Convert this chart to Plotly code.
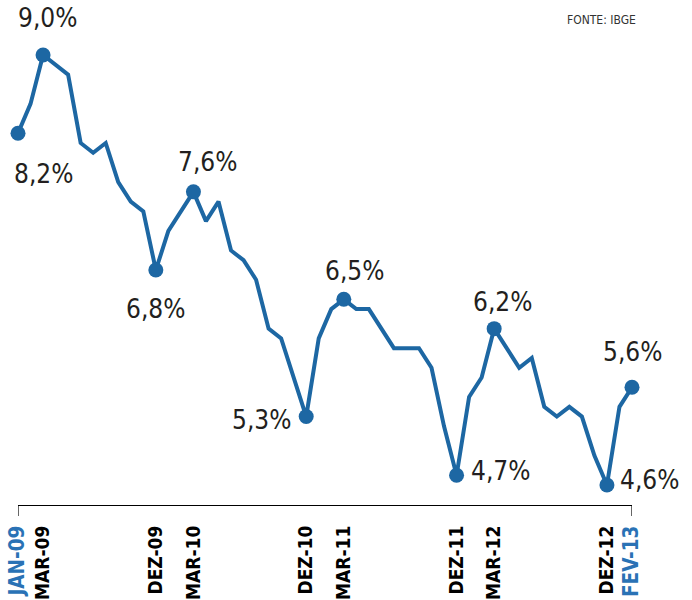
import plotly.graph_objects as go

# taxa de desemprego mensal, jan/2009 a fev/2013
meses = ["JAN-09", "FEV-09", "MAR-09", "ABR-09", "MAI-09", "JUN-09", "JUL-09", "AGO-09", "SET-09", "OUT-09", "NOV-09", "DEZ-09",
         "JAN-10", "FEV-10", "MAR-10", "ABR-10", "MAI-10", "JUN-10", "JUL-10", "AGO-10", "SET-10", "OUT-10", "NOV-10", "DEZ-10",
         "JAN-11", "FEV-11", "MAR-11", "ABR-11", "MAI-11", "JUN-11", "JUL-11", "AGO-11", "SET-11", "OUT-11", "NOV-11", "DEZ-11",
         "JAN-12", "FEV-12", "MAR-12", "ABR-12", "MAI-12", "JUN-12", "JUL-12", "AGO-12", "SET-12", "OUT-12", "NOV-12", "DEZ-12",
         "JAN-13", "FEV-13"]
taxa = [8.2, 8.5, 9.0, 8.9, 8.8, 8.1, 8.0, 8.1, 7.7, 7.5, 7.4, 6.8,
        7.2, 7.4, 7.6, 7.3, 7.5, 7.0, 6.9, 6.7, 6.2, 6.1, 5.7, 5.3,
        6.1, 6.4, 6.5, 6.4, 6.4, 6.2, 6.0, 6.0, 6.0, 5.8, 5.2, 4.7,
        5.5, 5.7, 6.2, 6.0, 5.8, 5.9, 5.4, 5.3, 5.4, 5.3, 4.9, 4.6,
        5.4, 5.6]

# meses destacados (bolinhas, rotulos e eixo)
destaques = ["JAN-09", "MAR-09", "DEZ-09", "MAR-10", "DEZ-10", "MAR-11", "DEZ-11", "MAR-12", "DEZ-12", "FEV-13"]
# posicao do rotulo em relacao ao ponto: (ancora, dx, dy em px)
offsets = [("center", 25, -41), ("center", 4, 37), ("center", 0, -39), ("center", 14, 30), ("right", -13, -3),
           ("center", 11, 28), ("left", 12, 4), ("center", 8, 27), ("left", 11, 5), ("center", 0, 35)]

azul = "#1d67a3"
preto = "#231f20"
fonte = "Liberation Sans Narrow, DejaVu Sans Condensed, Arial Narrow, sans-serif"

x = list(range(len(meses)))
idx = [meses.index(m) for m in destaques]

fig = go.Figure()
fig.add_trace(go.Scatter(x=x, y=taxa, mode="lines",
                         line=dict(color=azul, width=4), hoverinfo="skip"))
fig.add_trace(go.Scatter(x=idx, y=[taxa[i] for i in idx], mode="markers",
                         marker=dict(color=azul, size=15), cliponaxis=False))

for i, (anc, dx, dy) in zip(idx, offsets):
    fig.add_annotation(x=i, y=taxa[i], text=f"{taxa[i]:.1f}%".replace(".", ","),
                       showarrow=False, xanchor=anc, xshift=dx, yshift=dy,
                       font=dict(family=fonte, size=26, color=preto))

ticktext = []
for m in destaques:
    if m in ("JAN-09", "FEV-13"):
        ticktext.append(f"<span style='color:#2a72b5;font-size:20.5px'><b>{m}</b></span>")
    else:
        ticktext.append(f"<b>{m}</b>")

# colchete do eixo x
for i in (0, len(meses) - 1):
    fig.add_shape(type="line", xref="x", yref="paper", x0=i, x1=i, y0=0, y1=-0.022,
                  line=dict(color="black", width=1.2))

fig.add_annotation(xref="paper", yref="paper", x=1.01, y=0.98, xanchor="right", yanchor="middle",
                   text="FONTE: IBGE", showarrow=False,
                   font=dict(family=fonte, size=12, color="#333333"))

fig.update_layout(
    width=692, height=600,
    margin=dict(l=18, r=60, t=10, b=95),
    plot_bgcolor="white", paper_bgcolor="white",
    showlegend=False,
    xaxis=dict(range=[0, len(meses) - 1], tickvals=idx, ticktext=ticktext, tickangle=-90,
               showgrid=False, zeroline=False, showline=True, linecolor="black", linewidth=1.2,
               ticks="", ticklabelstandoff=12, automargin=False, ticklabeloverflow="allow",
               tickfont=dict(family=fonte, size=19, color="black")),
    yaxis=dict(range=[4.395, 9.461], visible=False, automargin=False),
)

# tira a margem padrao da pagina para a figura ocupar a janela toda
fig.write_html("out.html", config={"displayModeBar": False},
               post_script="document.body.style.margin='0';")
